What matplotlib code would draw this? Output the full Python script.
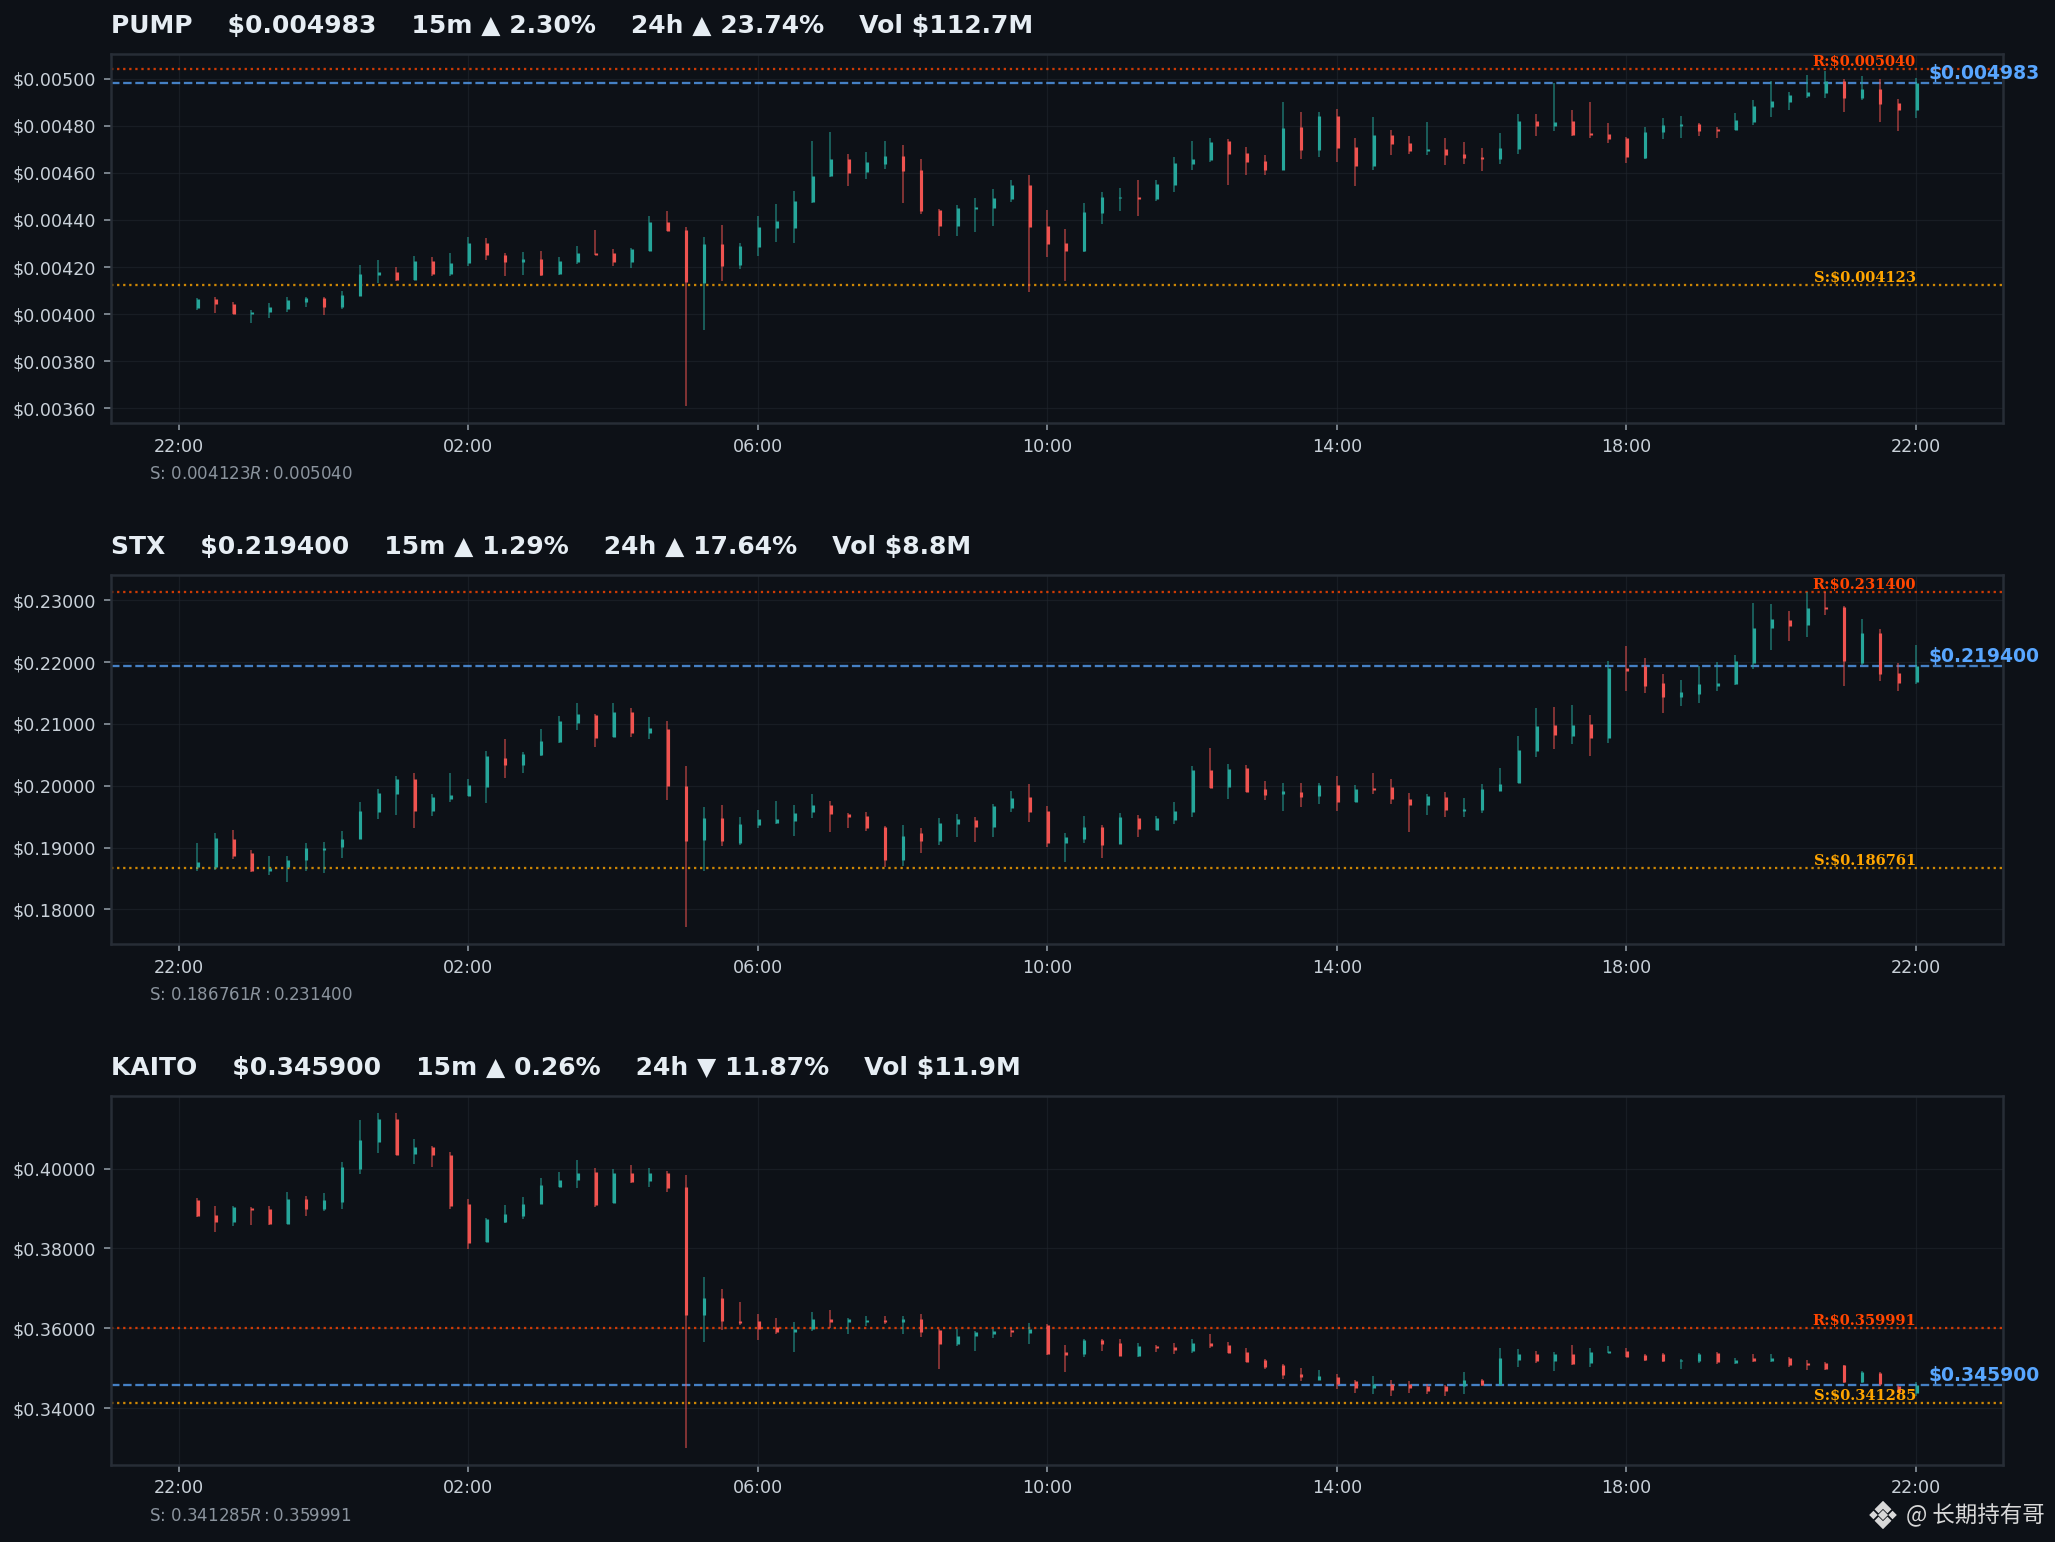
import matplotlib
matplotlib.use("Agg")
import matplotlib.pyplot as plt
import matplotlib.dates as mdates
from matplotlib.ticker import MultipleLocator, FuncFormatter
from matplotlib.patches import Polygon
import numpy as np
import pandas as pd

BG = "#0d1117"
UP = "#26a69a"
DOWN = "#ef5350"
GRID = "#21262d"
SPINE = "#272d36"
TXT = "#c9d1d9"

# 96 fifteen-minute candles
times = pd.date_range("2025-01-01 22:15", periods=96, freq="15min")

# ---- PUMP ----
pump_open = [0.004024, 0.004064, 0.004043, 0.004000, 0.004009, 0.004021, 0.004051, 0.004067, 0.004031, 0.004077,
             0.004166, 0.004179, 0.004146, 0.004226, 0.004170, 0.004217, 0.004302, 0.004251, 0.004221, 0.004234,
             0.004170, 0.004221, 0.004260, 0.004260, 0.004221, 0.004268, 0.004391, 0.004357, 0.004132, 0.004298,
             0.004209, 0.004285, 0.004366, 0.004366, 0.004477, 0.004587, 0.004660, 0.004604, 0.004638, 0.004672,
             0.004613, 0.004443, 0.004374, 0.004447, 0.004451, 0.004489, 0.004549, 0.004374, 0.004302, 0.004268,
             0.004430, 0.004494, 0.004498, 0.004489, 0.004549, 0.004638, 0.004655, 0.004736, 0.004685, 0.004651,
             0.004613, 0.004796, 0.004698, 0.004843, 0.004711, 0.004630, 0.004762, 0.004728, 0.004694, 0.004702,
             0.004681, 0.004668, 0.004660, 0.004702, 0.004821, 0.004800, 0.004821, 0.004766, 0.004766, 0.004749,
             0.004664, 0.004774, 0.004800, 0.004809, 0.004783, 0.004783, 0.004817, 0.004881, 0.004902, 0.004928,
             0.004940, 0.004991, 0.004919, 0.004957, 0.004898, 0.004868]
pump_high = [0.004068, 0.004072, 0.004051, 0.004017, 0.004047, 0.004072, 0.004072, 0.004072, 0.004098, 0.004209,
             0.004230, 0.004200, 0.004247, 0.004243, 0.004260, 0.004328, 0.004323, 0.004260, 0.004264, 0.004268,
             0.004243, 0.004289, 0.004357, 0.004277, 0.004281, 0.004417, 0.004437, 0.004370, 0.004328, 0.004379,
             0.004302, 0.004417, 0.004468, 0.004523, 0.004736, 0.004775, 0.004681, 0.004689, 0.004736, 0.004719,
             0.004660, 0.004447, 0.004464, 0.004494, 0.004532, 0.004570, 0.004591, 0.004443, 0.004362, 0.004472,
             0.004519, 0.004536, 0.004570, 0.004570, 0.004668, 0.004736, 0.004749, 0.004745, 0.004711, 0.004677,
             0.004902, 0.004860, 0.004860, 0.004872, 0.004749, 0.004838, 0.004784, 0.004758, 0.004817, 0.004749,
             0.004732, 0.004706, 0.004770, 0.004851, 0.004851, 0.004983, 0.004868, 0.004902, 0.004813, 0.004753,
             0.004796, 0.004834, 0.004843, 0.004813, 0.004796, 0.004855, 0.004911, 0.004991, 0.004945, 0.005017,
             0.005034, 0.005000, 0.005013, 0.005000, 0.004915, 0.005004]
pump_low = [0.004018, 0.004006, 0.004000, 0.003963, 0.003984, 0.004010, 0.004031, 0.003997, 0.004023, 0.004077,
            0.004133, 0.004142, 0.004146, 0.004162, 0.004162, 0.004204, 0.004230, 0.004162, 0.004166, 0.004162,
            0.004166, 0.004213, 0.004251, 0.004204, 0.004196, 0.004268, 0.004353, 0.003609, 0.003932, 0.004140,
            0.004191, 0.004247, 0.004306, 0.004302, 0.004472, 0.004583, 0.004545, 0.004574, 0.004617, 0.004472,
            0.004426, 0.004332, 0.004332, 0.004349, 0.004376, 0.004477, 0.004094, 0.004243, 0.004140, 0.004264,
            0.004383, 0.004438, 0.004417, 0.004481, 0.004519, 0.004613, 0.004647, 0.004549, 0.004591, 0.004591,
            0.004613, 0.004660, 0.004668, 0.004647, 0.004545, 0.004613, 0.004677, 0.004681, 0.004677, 0.004634,
            0.004638, 0.004608, 0.004638, 0.004681, 0.004758, 0.004779, 0.004758, 0.004749, 0.004728, 0.004643,
            0.004660, 0.004745, 0.004749, 0.004758, 0.004749, 0.004783, 0.004804, 0.004838, 0.004867, 0.004919,
            0.004919, 0.004860, 0.004911, 0.004817, 0.004779, 0.004834]
pump_close = [0.004064, 0.004043, 0.004000, 0.004009, 0.004031, 0.004061, 0.004067, 0.004031, 0.004081, 0.004170,
              0.004179, 0.004146, 0.004226, 0.004170, 0.004217, 0.004302, 0.004251, 0.004221, 0.004234, 0.004166,
              0.004226, 0.004260, 0.004251, 0.004221, 0.004277, 0.004391, 0.004353, 0.004136, 0.004298, 0.004204,
              0.004289, 0.004370, 0.004396, 0.004481, 0.004587, 0.004660, 0.004600, 0.004647, 0.004672, 0.004608,
              0.004438, 0.004374, 0.004451, 0.004455, 0.004494, 0.004549, 0.004370, 0.004298, 0.004268, 0.004434,
              0.004498, 0.004498, 0.004489, 0.004553, 0.004643, 0.004660, 0.004732, 0.004681, 0.004647, 0.004613,
              0.004791, 0.004698, 0.004843, 0.004706, 0.004630, 0.004762, 0.004723, 0.004694, 0.004698, 0.004677,
              0.004664, 0.004660, 0.004706, 0.004821, 0.004800, 0.004817, 0.004762, 0.004762, 0.004745, 0.004668,
              0.004774, 0.004804, 0.004809, 0.004779, 0.004779, 0.004826, 0.004885, 0.004906, 0.004932, 0.004945,
              0.004991, 0.004919, 0.004957, 0.004894, 0.004868, 0.004983]

# ---- STX ----
stx_open = [0.18687, 0.18687, 0.19134, 0.18908, 0.18622, 0.18687, 0.18795, 0.18957, 0.19005, 0.19134,
            0.19571, 0.19862, 0.20105, 0.19587, 0.19781, 0.19830, 0.19975, 0.20444, 0.20331, 0.20493,
            0.20703, 0.21010, 0.21140, 0.20784, 0.21188, 0.20849, 0.20914, 0.19992, 0.19118, 0.19474,
            0.19070, 0.19361, 0.19393, 0.19426, 0.19571, 0.19684, 0.19539, 0.19506, 0.19329, 0.18795,
            0.19232, 0.19102, 0.19377, 0.19442, 0.19329, 0.19636, 0.19814, 0.19587, 0.19070, 0.19134,
            0.19329, 0.19054, 0.19474, 0.19280, 0.19442, 0.19571, 0.20250, 0.19975, 0.20283, 0.19943,
            0.19862, 0.19895, 0.19830, 0.20008, 0.19733, 0.19959, 0.19975, 0.19781, 0.19684, 0.19814,
            0.19587, 0.19604, 0.19911, 0.20040, 0.20558, 0.20978, 0.20800, 0.20994, 0.20768, 0.21900,
            0.21932, 0.21657, 0.21431, 0.21480, 0.21609, 0.21641, 0.21981, 0.22547, 0.22676, 0.22595,
            0.22887, 0.22887, 0.21981, 0.22466, 0.21819, 0.21674]
stx_high = [0.19070, 0.19232, 0.19280, 0.18957, 0.18860, 0.18860, 0.19070, 0.19086, 0.19264, 0.19733,
            0.19943, 0.20153, 0.20202, 0.19862, 0.20202, 0.20105, 0.20558, 0.20752, 0.20542, 0.20914,
            0.21124, 0.21334, 0.21156, 0.21334, 0.21253, 0.21108, 0.21043, 0.20315, 0.19652, 0.19684,
            0.19490, 0.19604, 0.19749, 0.19684, 0.19862, 0.19749, 0.19555, 0.19571, 0.19345, 0.19361,
            0.19312, 0.19474, 0.19539, 0.19490, 0.19701, 0.19911, 0.20024, 0.19668, 0.19232, 0.19506,
            0.19361, 0.19555, 0.19523, 0.19506, 0.19733, 0.20315, 0.20606, 0.20347, 0.20331, 0.20072,
            0.20040, 0.20040, 0.20040, 0.20153, 0.20008, 0.20202, 0.20105, 0.19878, 0.19862, 0.19895,
            0.19798, 0.20024, 0.20283, 0.20800, 0.21253, 0.21269, 0.21302, 0.21140, 0.22013, 0.22256,
            0.22062, 0.21803, 0.21706, 0.21932, 0.21997, 0.22110, 0.22951, 0.22935, 0.22822, 0.23140,
            0.23140, 0.22903, 0.22693, 0.22531, 0.21981, 0.22272]
stx_low = [0.18622, 0.18639, 0.18816, 0.18606, 0.18558, 0.18444, 0.18622, 0.18590, 0.18833, 0.19134,
           0.19458, 0.19523, 0.19312, 0.19506, 0.19733, 0.19830, 0.19717, 0.20121, 0.20202, 0.20477,
           0.20687, 0.20897, 0.20622, 0.20784, 0.20784, 0.20752, 0.19765, 0.17711, 0.18622, 0.19021,
           0.19037, 0.19312, 0.19377, 0.19183, 0.19474, 0.19248, 0.19312, 0.19264, 0.18687, 0.18703,
           0.18908, 0.19037, 0.19167, 0.19086, 0.19167, 0.19571, 0.19409, 0.19005, 0.18762, 0.19070,
           0.18827, 0.19054, 0.19167, 0.19280, 0.19377, 0.19490, 0.19959, 0.19781, 0.19895, 0.19765,
           0.19587, 0.19652, 0.19701, 0.19587, 0.19733, 0.19862, 0.19701, 0.19248, 0.19523, 0.19490,
           0.19490, 0.19555, 0.19911, 0.20040, 0.20461, 0.20590, 0.20671, 0.20477, 0.20687, 0.21528,
           0.21496, 0.21172, 0.21285, 0.21334, 0.21528, 0.21625, 0.21884, 0.22191, 0.22337, 0.22401,
           0.22757, 0.21609, 0.21949, 0.21690, 0.21528, 0.21641]
stx_close = [0.18762, 0.19151, 0.18865, 0.18622, 0.18671, 0.18795, 0.18989, 0.18989, 0.19134, 0.19587,
             0.19878, 0.20105, 0.19587, 0.19814, 0.19846, 0.20008, 0.20477, 0.20331, 0.20509, 0.20719,
             0.21043, 0.21156, 0.20768, 0.21188, 0.20849, 0.20930, 0.19992, 0.19102, 0.19474, 0.19102,
             0.19377, 0.19458, 0.19458, 0.19555, 0.19684, 0.19539, 0.19490, 0.19312, 0.18795, 0.19183,
             0.19102, 0.19393, 0.19458, 0.19329, 0.19668, 0.19798, 0.19571, 0.19070, 0.19167, 0.19329,
             0.19037, 0.19490, 0.19296, 0.19474, 0.19587, 0.20250, 0.19959, 0.20267, 0.19895, 0.19846,
             0.19911, 0.19814, 0.20008, 0.19733, 0.19943, 0.19927, 0.19781, 0.19684, 0.19830, 0.19604,
             0.19620, 0.19943, 0.20024, 0.20574, 0.20962, 0.20816, 0.20978, 0.20768, 0.21900, 0.21852,
             0.21609, 0.21431, 0.21512, 0.21641, 0.21657, 0.22013, 0.22547, 0.22693, 0.22579, 0.22870,
             0.22854, 0.22013, 0.22466, 0.21803, 0.21657, 0.21940]

# ---- KAITO ----
kaito_open = [0.39218, 0.38839, 0.38662, 0.39016, 0.38991, 0.38611, 0.39243, 0.38991, 0.39168, 0.40002,
              0.40659, 0.41241, 0.40356, 0.40533, 0.40330, 0.39117, 0.38156, 0.38662, 0.38814, 0.39117,
              0.39547, 0.39724, 0.39926, 0.39142, 0.39901, 0.39698, 0.39901, 0.39547, 0.36336, 0.36766,
              0.36184, 0.36184, 0.36033, 0.35906, 0.35982, 0.36235, 0.36159, 0.36159, 0.36210, 0.36159,
              0.36235, 0.35957, 0.35603, 0.35805, 0.35856, 0.35957, 0.35881, 0.36083, 0.35401, 0.35350,
              0.35704, 0.35628, 0.35300, 0.35552, 0.35527, 0.35426, 0.35628, 0.35578, 0.35401, 0.35198,
              0.35072, 0.34845, 0.34718, 0.34769, 0.34693, 0.34516, 0.34617, 0.34617, 0.34566, 0.34566,
              0.34566, 0.34718, 0.34592, 0.35198, 0.35350, 0.35173, 0.35350, 0.35123, 0.35375, 0.35426,
              0.35325, 0.35350, 0.35173, 0.35173, 0.35375, 0.35123, 0.35249, 0.35173, 0.35249, 0.35123,
              0.35123, 0.35072, 0.34668, 0.34870, 0.34566, 0.34389]
kaito_high = [0.39269, 0.39066, 0.39066, 0.39041, 0.39066, 0.39420, 0.39319, 0.39395, 0.40154, 0.41215,
              0.41400, 0.41400, 0.40735, 0.40558, 0.40406, 0.39243, 0.38763, 0.39092, 0.39294, 0.39774,
              0.39926, 0.40204, 0.40027, 0.40002, 0.40078, 0.40027, 0.39951, 0.39850, 0.37297, 0.36993,
              0.36665, 0.36361, 0.36260, 0.36159, 0.36412, 0.36462, 0.36260, 0.36311, 0.36311, 0.36311,
              0.36361, 0.35982, 0.35982, 0.35932, 0.35982, 0.36007, 0.36134, 0.36109, 0.35578, 0.35729,
              0.35729, 0.35729, 0.35628, 0.35578, 0.35628, 0.35729, 0.35856, 0.35653, 0.35502, 0.35224,
              0.35097, 0.34996, 0.34946, 0.34845, 0.34718, 0.34794, 0.34718, 0.34693, 0.34617, 0.34592,
              0.34895, 0.34743, 0.35502, 0.35477, 0.35426, 0.35401, 0.35578, 0.35502, 0.35552, 0.35502,
              0.35350, 0.35375, 0.35224, 0.35375, 0.35401, 0.35249, 0.35350, 0.35350, 0.35274, 0.35198,
              0.35148, 0.35072, 0.34920, 0.34895, 0.34592, 0.34668]
kaito_low = [0.38788, 0.38409, 0.38561, 0.38586, 0.38586, 0.38611, 0.38814, 0.38940, 0.38991, 0.39875,
             0.40381, 0.40330, 0.40103, 0.40052, 0.38991, 0.37979, 0.38156, 0.38637, 0.38738, 0.39117,
             0.39547, 0.39521, 0.39041, 0.39142, 0.39648, 0.39547, 0.39420, 0.33000, 0.35653, 0.35957,
             0.36083, 0.35704, 0.35856, 0.35401, 0.35932, 0.36007, 0.35856, 0.36058, 0.36109, 0.35856,
             0.35780, 0.34971, 0.35552, 0.35426, 0.35755, 0.35780, 0.35603, 0.35325, 0.34895, 0.35274,
             0.35426, 0.35300, 0.35274, 0.35401, 0.35350, 0.35375, 0.35502, 0.35375, 0.35148, 0.34971,
             0.34743, 0.34693, 0.34718, 0.34491, 0.34389, 0.34364, 0.34314, 0.34389, 0.34364, 0.34314,
             0.34364, 0.34566, 0.34592, 0.35021, 0.35123, 0.34920, 0.35072, 0.35021, 0.35375, 0.35274,
             0.35173, 0.35148, 0.34971, 0.35123, 0.35097, 0.35097, 0.35148, 0.35148, 0.35021, 0.34946,
             0.34946, 0.34642, 0.34642, 0.34566, 0.34389, 0.34314]
kaito_close = [0.38814, 0.38662, 0.39041, 0.38965, 0.38611, 0.39243, 0.38991, 0.39218, 0.40052, 0.40710,
               0.41241, 0.40330, 0.40533, 0.40330, 0.39066, 0.38131, 0.38738, 0.38864, 0.39117, 0.39597,
               0.39724, 0.39901, 0.39092, 0.39901, 0.39673, 0.39901, 0.39521, 0.36336, 0.36766, 0.36184,
               0.36134, 0.35991, 0.35906, 0.35991, 0.36235, 0.36159, 0.36235, 0.36210, 0.36159, 0.36235,
               0.35906, 0.35603, 0.35805, 0.35906, 0.35932, 0.35906, 0.35982, 0.35350, 0.35325, 0.35704,
               0.35603, 0.35300, 0.35552, 0.35502, 0.35451, 0.35628, 0.35552, 0.35375, 0.35148, 0.35021,
               0.34819, 0.34769, 0.34794, 0.34617, 0.34516, 0.34617, 0.34465, 0.34516, 0.34440, 0.34440,
               0.34718, 0.34592, 0.35249, 0.35350, 0.35173, 0.35350, 0.35097, 0.35401, 0.35426, 0.35274,
               0.35198, 0.35173, 0.35198, 0.35350, 0.35148, 0.35198, 0.35173, 0.35249, 0.35072, 0.35072,
               0.34971, 0.34668, 0.34895, 0.34617, 0.34415, 0.34590]

symbols = ["PUMP", "STX", "KAITO"]
last_prices = [0.004983, 0.219400, 0.345900]
change_15m = [2.30, 1.29, 0.26]
change_24h = [23.74, 17.64, -11.87]
volumes = ["$112.7M", "$8.8M", "$11.9M"]
supports = [0.004123, 0.186761, 0.341285]
resistances = [0.005040, 0.231400, 0.359991]
ohlc = [
    (pump_open, pump_high, pump_low, pump_close),
    (stx_open, stx_high, stx_low, stx_close),
    (kaito_open, kaito_high, kaito_low, kaito_close),
]
y_steps = [0.0002, 0.01, 0.02]


def arrow(v):
    return "\u25b2" if v >= 0 else "\u25bc"


def draw_candles(ax, x, o, h, l, c):
    o, h, l, c = map(np.asarray, (o, h, l, c))
    cols = np.where(c >= o, UP, DOWN)
    ax.vlines(x, l, h, colors=cols, linewidth=0.8, alpha=0.6, zorder=3)
    lo = np.minimum(o, c)
    hi = np.maximum(np.maximum(o, c), lo + (h.max() - l.min()) * 0.004)
    ax.vlines(x + 0.0004, lo, hi, colors=cols, linewidth=1.5, zorder=4)


fig, axes = plt.subplots(3, 1, figsize=(13.7, 10.28), dpi=150)
fig.patch.set_facecolor(BG)
fig.subplots_adjust(left=0.054, right=0.9745, top=0.965, bottom=0.05, hspace=0.412)

x = mdates.date2num(times.to_pydatetime())

for i, ax in enumerate(axes):
    ax.set_facecolor(BG)
    o, h, l, c = ohlc[i]
    draw_candles(ax, x, o, h, l, c)

    s, r, p = supports[i], resistances[i], last_prices[i]
    ax.axhline(r, color="#ff4500", linestyle=":", linewidth=1.1, alpha=0.8, zorder=2)
    ax.axhline(s, color="#ffa500", linestyle=":", linewidth=1.1, alpha=0.8, zorder=2)
    ax.axhline(p, color="#58a6ff", linestyle="--", linewidth=1.1, alpha=0.75, zorder=2)

    ax.text(x[-1], r, f"R:${r:.6f}", color="#ff4500", fontsize=7, fontweight="bold",
            family="DejaVu Serif", ha="right", va="bottom", zorder=5)
    ax.text(x[-1], s, f"S:${s:.6f}", color="#ffa500", fontsize=7, fontweight="bold",
            family="DejaVu Serif", ha="right", va="bottom", zorder=5)
    ax.text(x[-1] + 0.0075, p, f"${p:.6f}", color="#58a6ff", fontsize=9, fontweight="bold",
            ha="left", va="bottom", clip_on=False, zorder=5)

    title = (f"{symbols[i]}    ${p:.6f}    15m {arrow(change_15m[i])} {abs(change_15m[i]):.2f}%    "
             f"24h {arrow(change_24h[i])} {abs(change_24h[i]):.2f}%    Vol {volumes[i]}")
    ax.set_title(title, loc="left", fontsize=12, fontweight="bold", color="#e6edf3",
                 pad=10, parse_math=False)

    ax.text(0.0203, -0.139, f"S: ${s:.6f}  R: ${r:.6f}", transform=ax.transAxes,
            color="#8b949e", fontsize=8, va="center", ha="left")

    ax.yaxis.set_major_locator(MultipleLocator(y_steps[i]))
    ax.yaxis.set_major_formatter(FuncFormatter(lambda v, pos: f"${v:.5f}"))
    ax.xaxis.set_major_locator(mdates.HourLocator(byhour=[2, 6, 10, 14, 18, 22]))
    ax.xaxis.set_major_formatter(mdates.DateFormatter("%H:%M"))

    ax.grid(True, color=GRID, linewidth=0.6, alpha=0.6, zorder=0)
    for sp in ax.spines.values():
        sp.set_color(SPINE)
        sp.set_linewidth(1.2)
    ax.tick_params(colors=TXT, labelsize=8.4, length=3.5, width=0.8)
    ax.tick_params(axis="both", color="#8b949e")

# watermark with a small diamond logo
logo = fig.add_axes([1869 / 2055, (1542 - 1529) / 1542, 28 / 2055, 28 / 1542])
logo.set_xlim(-1.1, 1.1)
logo.set_ylim(-1.1, 1.1)
logo.set_aspect("equal")
logo.axis("off")
wm = "#d8d8d8"
shapes = [
    [(0, 0.28), (0.28, 0), (0, -0.28), (-0.28, 0)],
    [(-0.75, 0.22), (-0.53, 0), (-0.75, -0.22), (-0.97, 0)],
    [(0.75, 0.22), (0.97, 0), (0.75, -0.22), (0.53, 0)],
    [(0, 1.0), (0.55, 0.45), (0.35, 0.25), (0, 0.6), (-0.35, 0.25), (-0.55, 0.45)],
    [(0, -1.0), (0.55, -0.45), (0.35, -0.25), (0, -0.6), (-0.35, -0.25), (-0.55, -0.45)],
]
for pts in shapes:
    logo.add_patch(Polygon(pts, closed=True, color=wm))

fig.text(0.9951, 1 - 1515 / 1542, "@ 长期持有哥", color=wm, fontsize=10.8,
         family=["Noto Sans CJK SC", "DejaVu Sans"], ha="right", va="center")

fig.savefig("out.png", dpi=150, facecolor=BG)
